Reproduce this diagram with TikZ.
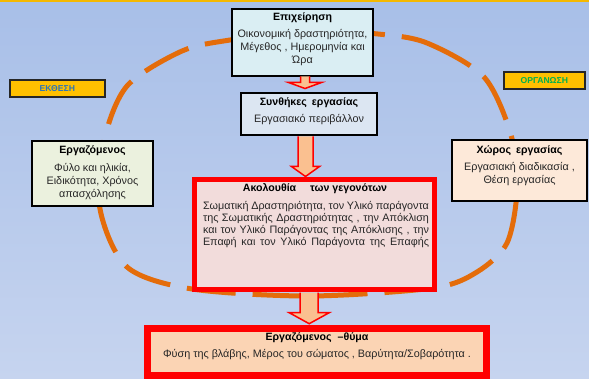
\documentclass[tikz,border=0pt]{standalone}
\usepackage{fontspec}
\setmainfont{Liberation Sans}
\usetikzlibrary{calc}
\definecolor{bgtop}{RGB}{168,191,232}
\definecolor{bgbot}{RGB}{198,212,239}
\definecolor{topline}{RGB}{245,184,0}
\definecolor{ringorange}{RGB}{228,108,10}
\definecolor{fillA}{RGB}{218,238,243}
\definecolor{fillB}{RGB}{220,230,242}
\definecolor{fillC}{RGB}{235,241,222}
\definecolor{fillD}{RGB}{253,233,217}
\definecolor{fillE}{RGB}{242,220,219}
\definecolor{fillF}{RGB}{251,212,180}
\definecolor{arrowfill}{RGB}{250,192,144}
\definecolor{taggold}{RGB}{255,192,0}
\definecolor{tagblue}{RGB}{46,117,182}
\definecolor{taggreen}{RGB}{0,176,80}
\tikzset{
  bx/.style={draw=black, line width=1.6pt, inner sep=0pt, outer sep=0pt, anchor=north west},
  redbx/.style={draw=red, line width=5.4pt, inner sep=0pt, outer sep=0pt, anchor=north west},
  txt/.style={font=\fontsize{10.8}{13}\selectfont, inner sep=0pt, align=center, text=black!85},
  ttl/.style={font=\fontsize{10.6}{13}\selectfont\bfseries, inner sep=0pt, text=black},
  blockarrow/.style={draw=red, fill=arrowfill, line width=1.5pt, line join=miter},
  ring/.style={draw=ringorange, line width=5pt, dash pattern=on 49pt off 17pt},
  tag/.style={draw=black!85, line width=1.6pt, fill=taggold, inner sep=0pt, anchor=north west,
              font=\fontsize{8.6}{10}\selectfont\bfseries}
}
\newcommand{\jline}[1]{\makebox[226pt][s]{#1}}
\begin{document}
\begin{tikzpicture}[x=1pt,y=-1pt]
\useasboundingbox (0,0) rectangle (589,379);
\shade[top color=bgtop, bottom color=bgbot] (0,0) rectangle (589,379);
\fill[topline] (0,0) rectangle (589,1.6);

% dashed ring
\draw[ring] plot[smooth cycle] coordinates {(378,34) (427,43) (484,77) (511,135) (517,190) (507,243) (477,272) (433,288) (310,296) (192,289) (127,267) (100,209) (104,141) (127,86) (182,51) (230,40) (305,31)};

% tags
\node[tag, minimum width=95pt, minimum height=17pt, text=tagblue] (ekt) at (9,79) {ΕΚΘΕΣΗ};
\node[tag, minimum width=81pt, minimum height=17pt, text=taggreen] (org) at (503,71) {ΟΡΓΑΝΩΣΗ};

% boxes
\node[bx, fill=fillA, minimum width=141pt, minimum height=67pt] (b1) at (232,9) {};
\node[bx, fill=fillB, minimum width=136pt, minimum height=42pt] (b2) at (241,93) {};
\node[bx, fill=fillC, minimum width=121pt, minimum height=65pt] (b3) at (32,141) {};
\node[bx, fill=fillD, minimum width=135pt, minimum height=61pt] (b4) at (452,140) {};
\node[redbx, fill=fillE, minimum width=240pt, minimum height=110pt] (b5) at (194.7,179.7) {};
\node[redbx, line width=7pt, fill=fillF, minimum width=339pt, minimum height=47pt] (b6) at (147.5,328.5) {};

% texts
\node[ttl] (t1) at (302.5,18) {Επιχείρηση};
\node[txt] (t1b) at (302.5,48) {Οικονομική δραστηριότητα,\\Μέγεθος , Ημερομηνία και\\Ώρα};
\node[ttl] (t2) at (309,103) {Συνθήκες\hspace{5pt}εργασίας};
\node[txt] (t2b) at (309,119.5) {Εργασιακό περιβάλλον};
\node[ttl] (t3) at (92.5,150.5) {Εργαζόμενος};
\node[txt] (t3b) at (92.5,181.5) {Φύλο και ηλικία,\\Ειδικότητα, Χρόνος\\απασχόλησης};
\node[ttl] (t4) at (519.5,150.5) {Χώρος\hspace{5pt}εργασίας};
\node[txt] (t4b) at (519.5,174.5) {Εργασιακή διαδικασία ,\\Θέση εργασίας};
\node[ttl, anchor=base] (t5) at (315,191.8) {Ακολουθία\hspace{14pt}των γεγονότων};
\node[txt, anchor=base] (t5a) at (316,209.8) {\jline{Σωματική Δραστηριότητα, τον Υλικό παράγοντα}};
\node[txt, anchor=base] (t5b) at (316,221.8) {\jline{της Σωματικής Δραστηριότητας , την Απόκλιση}};
\node[txt, anchor=base] (t5c) at (316,233.8) {\jline{και τον Υλικό Παράγοντας της Απόκλισης , την}};
\node[txt, anchor=base] (t5d) at (316,245.8) {\jline{Επαφή και τον Υλικό Παράγοντα της Επαφής}};
\node[ttl] (t6) at (317,338) {Εργαζόμενος\hspace{6pt}–θύμα};
\node[txt] (t6b) at (317,355) {Φύση της βλάβης, Μέρος του σώματος , Βαρύτητα/Σοβαρότητα .};

% block arrows
\coordinate (a1) at ($(b1.south)+(2.5,0.5)$);
\draw[blockarrow] (a1) ++(-4.5,0) -- ++(0,6) -- ++(-12,0) -- ++(16.5,6) -- ++(16.5,-6) -- ++(-12,0) -- ++(0,-6);
\coordinate (a2) at ($(b2.south)+(-3.5,1.5)$);
\draw[blockarrow] (a2) ++(-7.5,0) -- ++(0,30) -- ++(-6.5,0) -- ++(14,10) -- ++(14,-10) -- ++(-6.5,0) -- ++(0,-30);
\coordinate (a3) at ($(b5.south)+(-5.5,3)$);
\draw[blockarrow] (a3) ++(-9,0) -- ++(0,20) -- ++(-11,0) -- ++(20,11) -- ++(20,-11) -- ++(-11,0) -- ++(0,-20);
\end{tikzpicture}
\end{document}
